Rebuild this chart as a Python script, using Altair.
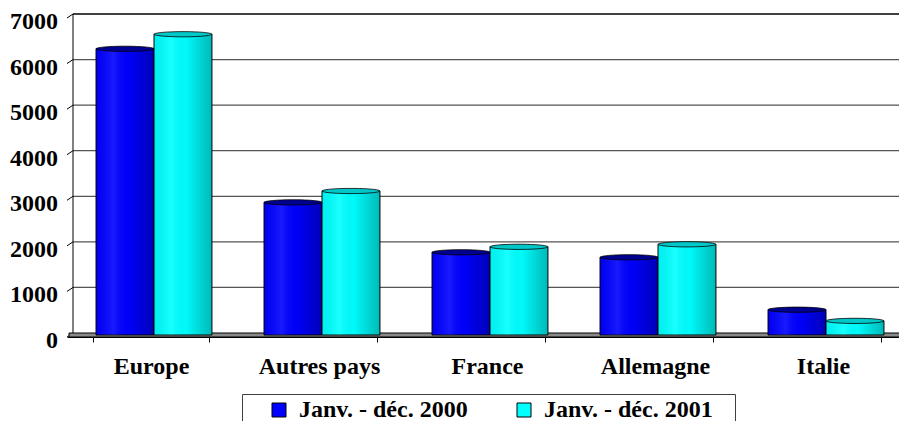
import altair as alt
import pandas as pd

categories = ["Europe", "Autres pays", "France", "Allemagne", "Italie"]
series = ["Janv. - déc. 2000", "Janv. - déc. 2001"]
values_2000 = [6280, 2910, 1815, 1705, 555]
values_2001 = [6600, 3160, 1935, 1990, 310]
y_ticks = [0, 1000, 2000, 3000, 4000, 5000, 6000, 7000]

rows = []
for c, a, b in zip(categories, values_2000, values_2001):
    rows.append({"cat": c, "series": series[0], "value": a})
    rows.append({"cat": c, "series": series[1], "value": b})
df = pd.DataFrame(rows)
ticks_df = pd.DataFrame({"tick": y_ticks})
span_df = pd.DataFrame({"lo": [y_ticks[0]], "hi": [y_ticks[-1]]})

W, H = 832, 319
XR = 840
FONT = "Liberation Serif"
FS = 24
DEPTH_X, DEPTH_Y = 6, 4

y_scale = alt.Scale(domain=[0, 7000], nice=False, zero=True)
x_scale = alt.Scale(domain=categories, range=[0, XR], paddingInner=0.31, paddingOuter=0.155)
step = XR / 5
bw = step * (1 - 0.31)
xo_scale = alt.Scale(domain=series, range=[3, 3 + bw], paddingInner=0, paddingOuter=0)

y_axis = alt.Axis(values=y_ticks, grid=False, title=None, domainColor="black",
                  tickColor="black", tickSize=5, labels=False)
x_axis = alt.Axis(title=None, domainColor="black", tickColor="black", tickSize=5,
                  tickBand="extent", labelAngle=0, labelPadding=12,
                  labelFont=FONT, labelFontSize=FS, labelFontWeight="bold",
                  labelColor="black")

# y axis carrier (front plane)
axis_layer = alt.Chart(ticks_df).mark_tick(opacity=0).encode(
    y=alt.Y("tick:Q", scale=y_scale, axis=y_axis),
)
# y tick labels
y_labels = alt.Chart(ticks_df).mark_text(
    align="right", baseline="middle", font=FONT, fontSize=FS, fontWeight="bold",
    color="black", dx=-9, dy=4,
).encode(
    x=alt.value(0),
    y=alt.Y("tick:Q", scale=y_scale, axis=None),
    text=alt.Text("tick:Q", format="d"),
)
# wall gridlines (back plane)
grid = alt.Chart(ticks_df).transform_filter("datum.tick > 0").mark_rule(
    strokeWidth=1.3, yOffset=-DEPTH_Y).encode(
    x=alt.value(DEPTH_X), x2=alt.value(XR),
    y=alt.Y("tick:Q", scale=y_scale, axis=None),
    color=alt.condition("datum.tick == 7000", alt.value("black"), alt.value("#555555")),
)
diag = alt.Chart(ticks_df).mark_rule(color="black", strokeWidth=1, y2Offset=-DEPTH_Y).encode(
    x=alt.value(0), x2=alt.value(DEPTH_X),
    y=alt.Y("tick:Q", scale=y_scale, axis=None), y2="tick:Q",
)
wall_edge = alt.Chart(span_df).mark_rule(color="black", strokeWidth=1, yOffset=-DEPTH_Y, y2Offset=-DEPTH_Y).encode(
    x=alt.value(DEPTH_X), y=alt.Y("lo:Q", scale=y_scale, axis=None), y2="hi:Q",
)
floor = alt.Chart(span_df).mark_rect(fill="#8a8a8a", stroke="black", strokeWidth=1, y2Offset=-DEPTH_Y).encode(
    x=alt.value(2), x2=alt.value(XR), y=alt.Y("lo:Q", scale=y_scale, axis=None), y2="lo:Q",
)

base = alt.Chart(df).encode(
    x=alt.X("cat:N", scale=x_scale, sort=categories, axis=x_axis),
    xOffset=alt.XOffset("series:N", scale=xo_scale, sort=series),
)

bars = base.mark_bar(stroke="black", strokeWidth=1, yOffset=-2, y2Offset=-2).encode(
    y=alt.Y("value:Q", scale=y_scale, axis=None),
    y2=alt.datum(0),
    color=alt.Color("series:N", sort=series,
                    scale=alt.Scale(domain=series, range=["#0000FF", "#00FFFF"]),
                    legend=alt.Legend(orient="none", legendX=175, legendY=376,
                                      direction="horizontal", title="\u00a0",
                                      titleOrient="right", titlePadding=18,
                                      titleFont=FONT, titleFontSize=FS,
                                      padding=4, strokeColor="#404040",
                                      fillColor="white",
                                      symbolType="square", symbolSize=196,
                                      symbolStrokeColor="black", symbolStrokeWidth=1,
                                      symbolOffset=21, columnPadding=23,
                                      labelOffset=8, labelLimit=400,
                                      labelFont=FONT, labelFontSize=FS,
                                      labelFontWeight="bold", labelColor="black")),
)

shade = base.mark_bar(
    yOffset=-2, y2Offset=-2,
    fill=alt.Gradient(gradient="linear", x1=0, x2=1, y1=0, y2=0, stops=[
        alt.GradientStop(offset=0, color="rgba(0,0,0,0.06)"),
        alt.GradientStop(offset=0.3, color="rgba(255,255,255,0.10)"),
        alt.GradientStop(offset=0.55, color="rgba(0,0,0,0.02)"),
        alt.GradientStop(offset=1, color="rgba(0,0,0,0.28)"),
    ]),
).encode(
    y=alt.Y("value:Q", scale=y_scale, axis=None),
    y2=alt.datum(0),
)

tops = base.mark_point(
    shape="M-1,0A1,0.09,0,1,1,1,0A1,0.09,0,1,1,-1,0Z",
    filled=True, size=3340, stroke="black", strokeWidth=0.8, opacity=1, yOffset=-2,
).encode(
    y=alt.Y("value:Q", scale=y_scale, axis=None),
    fill=alt.Fill("series:N", sort=series,
                  scale=alt.Scale(domain=series, range=["#000090", "#00C8C8"]),
                  legend=None),
)

chart = alt.layer(axis_layer, y_labels, grid, diag, wall_edge, floor, bars, shade, tops).properties(
    width=W, height=H,
    autosize=alt.AutoSizeParams(type="none"),
    padding={"left": 59, "top": 10, "right": 0, "bottom": 84},
    background="white",
).configure_view(stroke=None)

chart.save("out.html", embed_options={"renderer": "svg", "actions": False})
